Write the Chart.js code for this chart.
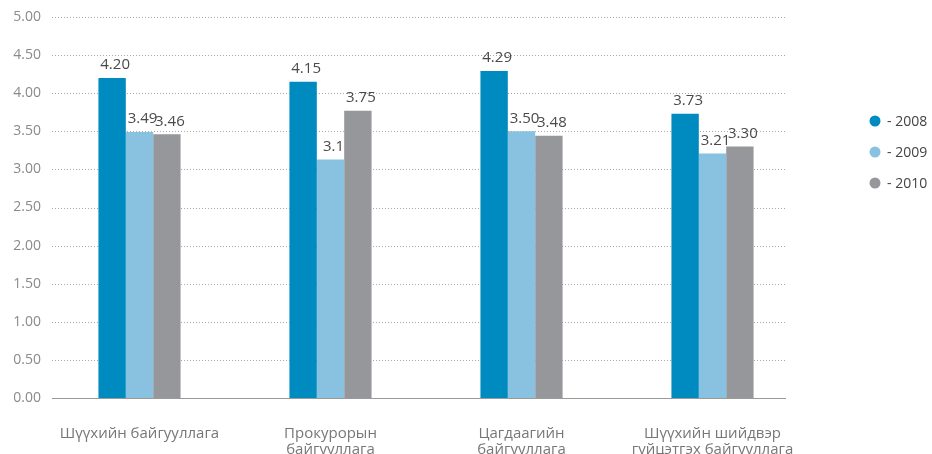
<!DOCTYPE html>
<html>
<head>
<meta charset="utf-8">
<script src="https://cdn.jsdelivr.net/npm/chart.js@4/dist/chart.umd.min.js"></script>
<style>
  html, body { margin: 0; padding: 0; background: #fff; }
  #wrap { width: 932px; height: 454px; }
</style>
</head>
<body>
<div id="wrap"><canvas id="scoreChart"></canvas></div>
<script>
const categories = [
  'Шүүхийн байгууллага',
  ['Прокурорын', 'байгууллага'],
  ['Цагдаагийн', 'байгууллага'],
  ['Шүүхийн шийдвэр', 'гүйцэтгэх байгууллага']
];
const years = ['2008', '2009', '2010'];
const values2008 = [4.20, 4.15, 4.29, 3.73];
const values2009 = [3.49, 3.13, 3.50, 3.21];
const values2010 = [3.46, 3.77, 3.44, 3.30];
// label texts as printed on the chart
const labels2008 = ['4.20', '4.15', '4.29', '3.73'];
const labels2009 = ['3.49', '3.1', '3.50', '3.21'];
const labels2010 = ['3.46', '3.75', '3.48', '3.30'];
const yTicks = [0, 0.5, 1, 1.5, 2, 2.5, 3, 3.5, 4, 4.5, 5];

const colors = ['#008bc0', '#89c2e1', '#96979b'];
const FONT = '"Open Sans", "Noto Sans", sans-serif';

const decor = {
  id: 'decor',
  beforeDatasetsDraw(chart) {
    const ctx = chart.ctx;
    const y = chart.scales.y;
    const x0 = chart.chartArea.left + 8;
    const x1 = chart.chartArea.right - 22;
    ctx.save();
    yTicks.forEach(function (t) {
      const py = Math.round(y.getPixelForValue(t)) + 0.5;
      ctx.beginPath();
      if (t === 0) {
        ctx.setLineDash([]);
        ctx.strokeStyle = '#9a9a9a';
      } else {
        ctx.setLineDash([1, 2]);
        ctx.strokeStyle = '#a8a8a8';
      }
      ctx.lineWidth = 1;
      ctx.moveTo(x0, py);
      ctx.lineTo(x1, py);
      ctx.stroke();
    });
    ctx.restore();
  },
  afterDatasetsDraw(chart) {
    const ctx = chart.ctx;
    ctx.save();
    ctx.font = '15px ' + FONT;
    ctx.fillStyle = '#4a4a4a';
    ctx.textAlign = 'center';
    ctx.textBaseline = 'middle';
    chart.data.datasets.forEach(function (ds, i) {
      chart.getDatasetMeta(i).data.forEach(function (bar, j) {
        ctx.fillText(ds.valueLabels[j], bar.x + 3, bar.y - 13);
      });
    });
    // legend
    ctx.font = '14px ' + FONT;
    ctx.textAlign = 'left';
    chart.data.datasets.forEach(function (ds, i) {
      const ly = 121 + i * 31;
      ctx.beginPath();
      ctx.fillStyle = ds.backgroundColor;
      ctx.arc(875, ly, 5.5, 0, Math.PI * 2);
      ctx.fill();
      ctx.fillStyle = '#444';
      ctx.fillText('- ' + ds.label, 887, ly + 1);
    });
    ctx.restore();
  }
};

const scoreChart = new Chart(document.getElementById('scoreChart'), {
  type: 'bar',
  data: {
    labels: categories,
    datasets: [
      { label: years[0], data: values2008, valueLabels: labels2008, backgroundColor: colors[0] },
      { label: years[1], data: values2009, valueLabels: labels2009, backgroundColor: colors[1] },
      { label: years[2], data: values2010, valueLabels: labels2010, backgroundColor: colors[2] }
    ]
  },
  options: {
    responsive: true,
    maintainAspectRatio: false,
    animation: false,
    layout: { padding: { top: 17, right: 124, left: 0, bottom: 0 } },
    datasets: {
      bar: { categoryPercentage: 0.43, barPercentage: 1 }
    },
    scales: {
      y: {
        min: 0,
        max: 5,
        afterBuildTicks(s) { s.ticks = yTicks.map(v => ({ value: v })); },
        afterFit(s) { s.width = 44; },
        grid: { display: false, drawTicks: false },
        border: { display: false },
        ticks: {
          color: '#8a8a8a',
          padding: 3,
          font: { family: FONT, size: 14 },
          callback: v => Number(v).toFixed(2)
        }
      },
      x: {
        afterFit(s) { s.height = 56; },
        grid: { display: false },
        border: { display: false },
        ticks: {
          color: '#777',
          padding: 19,
          maxRotation: 0,
          autoSkip: false,
          font: { family: FONT, size: 15, lineHeight: 1.1 }
        }
      }
    },
    plugins: {
      legend: { display: false },
      tooltip: { enabled: false }
    }
  },
  plugins: [decor]
});
</script>
</body>
</html>
